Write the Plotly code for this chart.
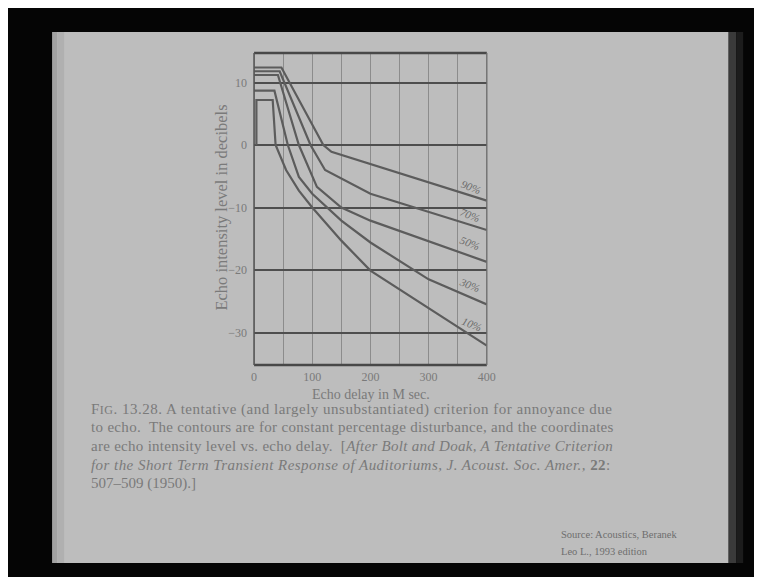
import plotly.graph_objects as go

# ---- data ----
delay_90 = [0, 47, 119, 133, 400]
level_90 = [12.4, 12.4, 0, -1.1, -8.9]
delay_70 = [0, 44, 97, 122, 200, 400]
level_70 = [11.8, 11.8, 0, -4.0, -7.8, -13.6]
delay_50 = [0, 41, 77, 108, 150, 200, 400]
level_50 = [11.2, 11.2, 0, -6.7, -10.0, -12.1, -18.7]
delay_30 = [0, 35, 58, 77, 100, 125, 150, 200, 300, 400]
level_30 = [8.7, 8.7, 0, -5.1, -7.8, -10.0, -12.1, -15.6, -21.5, -25.5]
delay_10 = [4, 4, 32, 37, 55, 77, 100, 150, 200, 300, 400]
level_10 = [0, 7.2, 7.2, 0, -4.0, -7.3, -10.0, -15.3, -20.1, -26.1, -32.1]

curve_names = ["90%", "70%", "50%", "30%", "10%"]
label_x = [373, 371, 371, 371, 374]
label_y = [-6.7, -11.2, -15.6, -22.4, -28.6]

x_ticks = [0, 100, 200, 300, 400]
y_ticks = [10, 0, -10, -20, -30]
y_ticktext = ["10", "0", "\u221210", "\u221220", "\u221230"]

caption_lines = [
    "F<span style='font-size:12px'>IG</span>. 13.28. A tentative (and largely unsubstantiated) criterion for annoyance due",
    "to echo.  The contours are for constant percentage disturbance, and the coordinates",
    "are echo intensity level vs. echo delay.  [<i>After Bolt and Doak, A Tentative Criterion</i>",
    "<i>for the Short Term Transient Response of Auditoriums, J. Acoust. Soc. Amer.,</i> <b>22</b>:",
    "507\u2013509 (1950).]",
]
caption_spacing = [0.5, 0.32, 0.28, 0.45, 0.0]   # justification of the printed caption
source_lines = ["Source: Acoustics, Beranek", "Leo L., 1993 edition"]

# page has an 8px body margin; figure fills the rest of the window
OFF = 8
W, H = 762 - OFF, 577 - OFF
def px(x):
    return (x - OFF) / W
def py(y):
    return 1 - (y - OFF) / H

curve_col = "#5c5c5c"
serif = "Liberation Serif"
txt_col = "#7a7a7a"

fig = go.Figure()
series = [(delay_90, level_90), (delay_70, level_70), (delay_50, level_50),
          (delay_30, level_30), (delay_10, level_10)]
for (xs, ys), name in zip(series, curve_names):
    fig.add_trace(go.Scatter(x=xs, y=ys, mode="lines", name=name,
                             line=dict(color=curve_col, width=2.2),
                             hoverinfo="skip"))

for name, lx, ly in zip(curve_names, label_x, label_y):
    fig.add_annotation(x=lx, y=ly, xref="x", yref="y", text="<i>" + name + "</i>",
                       showarrow=False, textangle=22,
                       font=dict(family=serif, size=11, color="#6a6a6a"))

# background (photo of a projected slide)
shapes = [
    dict(type="rect", xref="paper", yref="paper", x0=px(737), x1=px(745), y0=py(563), y1=py(32),
         fillcolor="#3a3a3a", line_width=0, layer="below"),
    dict(type="rect", xref="paper", yref="paper", x0=px(745), x1=px(752), y0=py(563), y1=py(32),
         fillcolor="#1c1c1c", line_width=0, layer="below"),
    dict(type="rect", xref="paper", yref="paper", x0=px(50), x1=px(737), y0=py(563), y1=py(32),
         fillcolor="#bdbdbd", line_width=0, layer="below"),
    dict(type="rect", xref="paper", yref="paper", x0=px(50), x1=px(55), y0=py(563), y1=py(32),
         fillcolor="#a2a2a2", line_width=0, layer="below"),
    dict(type="rect", xref="paper", yref="paper", x0=px(55), x1=px(62), y0=py(563), y1=py(32),
         fillcolor="#b0b0b0", line_width=0, layer="below"),
    # plot borders
    dict(type="line", xref="x domain", yref="y domain", x0=0, x1=1, y0=1, y1=1,
         line=dict(color="#484848", width=2.5)),
    dict(type="line", xref="x domain", yref="y domain", x0=0, x1=1, y0=0, y1=0,
         line=dict(color="#484848", width=2.5)),
    dict(type="line", xref="x domain", yref="y domain", x0=0, x1=0, y0=0, y1=1,
         line=dict(color="#555555", width=1.6)),
    dict(type="line", xref="x domain", yref="y domain", x0=1, x1=1, y0=0, y1=1,
         line=dict(color="#6a6a6a", width=1.3)),
]

annotations = [
    dict(x=px(374), y=py(394), xref="paper", yref="paper",
         text="Echo delay in M sec.", showarrow=False,
         xanchor="center", yanchor="middle",
         font=dict(family=serif, size=14, color=txt_col)),
    dict(x=px(221), y=py(208), xref="paper", yref="paper",
         text="Echo intensity level in decibels", showarrow=False,
         xanchor="center", yanchor="middle",
         textangle=-90, font=dict(family=serif, size=16.5, color=txt_col)),
]
cap_y = [409, 427, 446, 465, 483]
for line, sp, yy in zip(caption_lines, caption_spacing, cap_y):
    annotations.append(dict(x=px(87), y=py(yy), xref="paper", yref="paper",
                            text="<span style='letter-spacing:%.2fpx'>%s</span>" % (sp, line),
                            showarrow=False, xanchor="left", yanchor="middle",
                            font=dict(family=serif, size=15, color=txt_col)))
for line, yy in zip(source_lines, [534, 551]):
    annotations.append(dict(x=px(565), y=py(yy), xref="paper", yref="paper",
                            text=line, showarrow=False, xanchor="left", yanchor="middle",
                            font=dict(family=serif, size=10.5, color="#6e6e6e")))
for a in annotations:
    fig.add_annotation(**a)

fig.update_layout(
    width=W, height=H,
    margin=dict(l=0, r=0, t=0, b=0),
    paper_bgcolor="#050505",
    plot_bgcolor="rgba(0,0,0,0)",
    showlegend=False,
    shapes=shapes,
    xaxis=dict(domain=[px(255), px(491.5)], range=[0, 400],
               tickvals=x_ticks, ticktext=[str(v) for v in x_ticks],
               showgrid=True, gridcolor="#8c8c8c", gridwidth=1,
               minor=dict(dtick=50, showgrid=True, gridcolor="#8c8c8c", gridwidth=1),
               zeroline=False, showline=False, ticks="", ticklabelstandoff=3,
               tickfont=dict(family=serif, size=12, color=txt_col)),
    yaxis=dict(domain=[py(365), py(53)], range=[-35.2, 14.72],
               tickvals=y_ticks, ticktext=y_ticktext,
               showgrid=True, gridcolor="#4e4e4e", gridwidth=2,
               zeroline=False, showline=False, ticks="", ticklabelstandoff=6,
               tickfont=dict(family=serif, size=12, color=txt_col)),
)

fig.write_html("out.html")
